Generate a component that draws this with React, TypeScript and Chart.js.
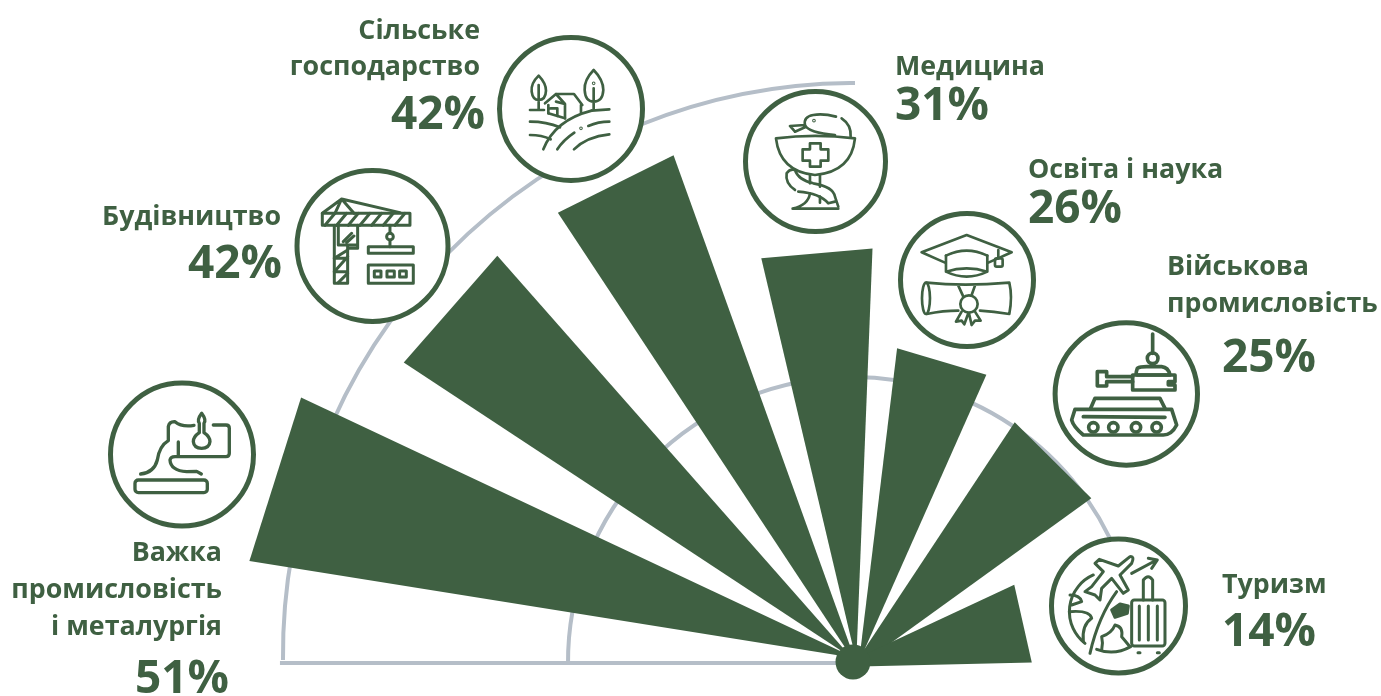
import React, { useEffect, useRef } from "react";
import { Chart, registerables, ArcElement } from "chart.js";

const categories = ["Важка промисловість і металургія", "Будівництво", "Сільське господарство", "Медицина", "Освіта і наука", "Військова промисловість", "Туризм"];
const percentLabels = ["51%", "42%", "42%", "31%", "26%", "25%", "14%"];
// radial length of each wedge
const wedgeLengths = [51.0, 45.0, 44.8, 34.5, 26.4, 24.1, 14.9];
// angular extent, degrees measured clockwise from the left end of the baseline
const wedgeFrom = [9.5, 33.7, 56.7, 77.2, 98.0, 124.0, 154.4];
const wedgeTo = [25.6, 48.8, 70.5, 92.7, 114.9, 145.5, 180.2];
const guideValues = [23.75, 47.67];
const guideFrom = [-0.5, -0.5];
const guideTo = [163, 90];

const GREEN = "#3F6042";
const GREY = "#B5BEC8";
// where each wedge's tip sits under the hub, relative to the hub centre (drawing style only)
const tipShift = [[2, -4], [-1.6, -4.5], [4.3, 4], [3.3, -1], [6, 0], [-5, 12], [-15, 5]];

const labels: string[] = [];
const data: number[] = [];
const spans: number[] = [];
categories.forEach((c, i) => {
  labels.push(c);
  data.push(wedgeLengths[i]);
  spans.push(wedgeTo[i] - wedgeFrom[i]);
  if (i < categories.length - 1) {
    labels.push("");
    data.push(0);
    spans.push(wedgeFrom[i + 1] - wedgeTo[i]);
  }
});

class ChordArc extends ArcElement {
  static id = "chordArc";
  draw(ctx: CanvasRenderingContext2D) {
    const { x, y, startAngle, endAngle, outerRadius } = (this as any).getProps(["x", "y", "startAngle", "endAngle", "outerRadius"]);
    if (!outerRadius) return;
    const mid = (startAngle + endAngle) / 2;
    const fromLeft = (mid * 180) / Math.PI - 180;
    const idx = wedgeFrom.findIndex((f, i) => fromLeft >= f && fromLeft <= wedgeTo[i]);
    const [sx, sy] = tipShift[idx] || [0, 0];
    ctx.save();
    ctx.fillStyle = (this as any).options.backgroundColor;
    ctx.beginPath();
    ctx.moveTo(x + sx, y + sy);
    ctx.lineTo(x + Math.cos(startAngle) * outerRadius, y + Math.sin(startAngle) * outerRadius);
    ctx.lineTo(x + Math.cos(endAngle) * outerRadius, y + Math.sin(endAngle) * outerRadius);
    ctx.closePath();
    ctx.fill();
    ctx.restore();
  }
}

Chart.register(...registerables, ChordArc);
(Chart.defaults as any).datasets.polarArea.dataElementType = "chordArc";

const guidePlugin = {
  id: "guides",
  beforeDatasetsDraw(chart: any) {
    const s = chart.scales.r;
    const ctx = chart.ctx;
    ctx.save();
    ctx.strokeStyle = GREY;
    ctx.lineWidth = 4;
    guideValues.forEach((v, i) => {
      const r = s.getDistanceFromCenterForValue(v);
      const big = i === 1;
      const cx = s.xCenter + (big ? 2 : 0);
      const cy = s.yCenter + (big ? -7 : 0);
      ctx.beginPath();
      ctx.arc(cx, cy, r, Math.PI + (guideFrom[i] * Math.PI) / 180, Math.PI + (guideTo[i] * Math.PI) / 180);
      ctx.stroke();
    });
    const r = s.getDistanceFromCenterForValue(guideValues[1]);
    ctx.beginPath();
    ctx.moveTo(s.xCenter - r - 1, s.yCenter + 1);
    ctx.lineTo(s.xCenter, s.yCenter + 1);
    ctx.stroke();
    ctx.restore();
  },
  afterDatasetsDraw(chart: any) {
    const s = chart.scales.r;
    const ctx = chart.ctx;
    ctx.save();
    ctx.fillStyle = GREEN;
    ctx.beginPath();
    ctx.arc(s.xCenter, s.yCenter, 17.5, 0, Math.PI * 2);
    ctx.fill();
    ctx.restore();
  },
};

const FONT = '"Open Sans", sans-serif';
const CAP = 26.8;
const PCT = 46;

type T = { t: string; x: number; y: number; a: "start" | "end"; s: number };
const texts: T[] = [
  { t: "Сільське", x: 480, y: 39, a: "end", s: CAP },
  { t: "господарство", x: 480, y: 75, a: "end", s: CAP },
  { t: percentLabels[2], x: 485, y: 129, a: "end", s: PCT },
  { t: "Будівництво", x: 281, y: 225, a: "end", s: CAP },
  { t: percentLabels[1], x: 282, y: 278, a: "end", s: PCT },
  { t: "Важка", x: 222, y: 561, a: "end", s: CAP },
  { t: "промисловість", x: 222, y: 598, a: "end", s: CAP },
  { t: "і металургія", x: 222, y: 635, a: "end", s: CAP },
  { t: percentLabels[0], x: 229, y: 693, a: "end", s: PCT },
  { t: "Медицина", x: 895, y: 75, a: "start", s: CAP },
  { t: percentLabels[3], x: 895, y: 120, a: "start", s: PCT },
  { t: "Освіта і наука", x: 1028, y: 178, a: "start", s: CAP },
  { t: percentLabels[4], x: 1028, y: 223, a: "start", s: PCT },
  { t: "Військова", x: 1167, y: 275, a: "start", s: CAP },
  { t: "промисловість", x: 1167, y: 312, a: "start", s: CAP },
  { t: percentLabels[5], x: 1222, y: 372, a: "start", s: PCT },
  { t: "Туризм", x: 1222, y: 593, a: "start", s: CAP },
  { t: percentLabels[6], x: 1222, y: 646, a: "start", s: PCT },
];

const circles = [
  [182, 454.5, 71.5],
  [372.5, 246, 75.5],
  [571, 109, 71.5],
  [815.5, 161.5, 70],
  [967, 280, 66.5],
  [1126.3, 394, 71.2],
  [1118.5, 606, 67],
];

function Zoomed({ x, y, children, w = 8 }: { x: number; y: number; w?: number; children: React.ReactNode }) {
  return (
    <g transform={`translate(${x} ${y}) scale(0.3333)`} fill="none" stroke={GREEN} strokeWidth={w} strokeLinecap="round" strokeLinejoin="round">
      {children}
    </g>
  );
}

function Icons() {
  return (
    <>
      {/* furnace */}
      <Zoomed x={0} y={370} w={10}>
        <rect x={405} y={330} width={217} height={38} rx={10} />
        <path d="M422 312 Q 462 308 472 270 Q 478 228 505 212 L505 170 Q 508 154 525 155 Q 545 172 582 166" />
        <path d="M640 165 L678 165 Q 688 165 688 175 L688 250 Q 688 260 678 260 L530 260 Q 512 258 510 270 Q 512 302 560 305 L590 304 L604 312" />
        <path d="M535 216 L535 258" />
        <path d="M605 130 Q 590 150 598 160 L598 188 Q 580 200 580 215 Q 582 235 605 235 Q 628 235 630 215 Q 630 200 612 188 L612 160 Q 620 150 605 130Z" />
      </Zoomed>
      {/* crane */}
      <Zoomed x={90} y={0} w={9}>
        <path d="M697 640 L755 597 L792 640 M755 597 L735 640 M755 597 L930 638" />
        <rect x={697} y={640} width={263} height={36} />
        <path d="M705 676 L735 640 M740 676 L770 640 M775 676 L805 640 M810 676 L840 640 M845 676 L875 640 M880 676 L910 640 M915 676 L945 640" />
        <path d="M733 676 L733 850 L773 850 L773 745 L803 745 L803 676 M745 676 L745 735 L803 735 M773 735 L773 745" />
        <path d="M733 775 L773 750 M733 815 L773 770 M733 815 L773 815 M733 775 L773 775 M745 848 L773 820 M760 725 L785 700 M770 728 L792 708" />
        <path d="M900 676 L900 700 M900 720 L900 740" />
        <circle cx={900} cy={710} r={10} />
        <rect x={835} y={740} width={135} height={20} />
        <rect x={835} y={795} width={135} height={55} />
        <rect x={853} y={813} width={20} height={18} />
        <rect x={891} y={813} width={22} height={18} />
        <rect x={929} y={813} width={20} height={18} />
      </Zoomed>
      {/* farm */}
      <Zoomed x={480} y={20} w={8}>
        <path d="M176 167 Q 152 190 155 215 Q 158 240 176 240 Q 197 240 198 212 Q 198 190 176 167Z M176 195 L176 268" />
        <path d="M341 150 Q 312 180 314 210 Q 316 245 341 245 Q 368 245 370 210 Q 370 180 341 150Z M341 205 L341 268" />
        <circle cx={341} cy={190} r={1.5} />
        <path d="M195 250 L228 222 L282 222 L307 255 M228 222 L255 252 M205 255 L205 280 M228 245 L255 252 L255 295 M303 255 L303 278 M212 265 L232 265 L232 288" />
        <path d="M150 270 L192 270 M205 280 L255 295 M335 272 L388 268" />
        <path d="M190 388 Q 225 300 335 272" />
        <path d="M150 305 Q 200 305 240 322 M150 345 Q 185 345 212 358" />
        <path d="M232 388 Q 250 360 283 338 M325 318 Q 355 305 388 305 M282 388 Q 320 350 388 343" />
        <circle cx={303} cy={325} r={1.5} />
      </Zoomed>
      {/* pharmacy */}
      <Zoomed x={480} y={20} w={8}>
        <path d="M888 355 Q 1005 340 1125 355 Q 1115 455 1005 465 Q 900 455 888 355Z" />
        <path d="M990 370 L1022 370 L1022 388 L1045 388 L1045 422 L1022 422 L1022 440 L990 440 L990 422 L968 422 L968 388 L990 388Z" />
        <path d="M990 465 L990 490 M1020 465 L1020 500 M938 566 L1075 566 M938 566 Q 985 555 990 520 M1020 530 L1020 548" />
        <path d="M1068 290 Q 1030 280 1000 285 Q 970 290 975 315 Q 985 338 1065 345 M975 315 L930 318 L945 335 M975 322 L945 335 M1085 295 Q 1115 315 1112 350" />
        <path d="M945 510 Q 915 490 920 460 Q 930 445 945 450 Q 955 480 1000 490 Q 1060 500 1065 530 L1075 560 M955 515 Q 1020 520 1045 550 L1065 545" />
        <circle cx={1002} cy={302} r={1.5} />
      </Zoomed>
      {/* education */}
      <Zoomed x={730} y={80} w={8}>
        <path d="M645 548 L575 517 L710 465 L845 517 L775 548" />
        <path d="M648 527 Q 710 497 772 527" />
        <path d="M648 527 L648 575 Q 710 605 772 575 L772 527 M648 575 Q 710 555 772 575" />
        <path d="M805 510 L805 535" />
        <rect x={795} y={535} width={23} height={25} rx={5} />
        <ellipse cx={588} cy={655} rx={12} ry={47} />
        <path d="M590 608 Q 700 620 838 608 Q 848 650 838 702 Q 790 695 750 692 M590 702 Q 640 692 685 692 M685 617 L700 650 M735 617 L725 645" />
        <circle cx={717} cy={672} r={26} />
        <path d="M695 695 L678 725 L695 722 L703 733 L715 700 M735 695 L752 722 L735 722 L725 735 L717 700" />
      </Zoomed>
      {/* tank */}
      <Zoomed x={1040} y={310} w={11}>
        <path d="M338 72 L338 130" />
        <circle cx={338} cy={145} r={16} />
        <path d="M292 175 Q 300 170 320 170 L365 170 Q 385 172 390 195 L292 195 Q 285 195 292 175Z" />
        <path d="M278 195 L405 195 L405 215 L385 215 L385 225 L405 225 L405 240 L278 240Z" />
        <path d="M278 200 L200 200 L200 185 L172 185 L172 228 L200 228 L200 215 L278 215" />
        <path d="M152 295 L165 265 L360 265 L375 295" />
        <path d="M105 298 L395 298 L410 345 Q 395 375 370 375 L130 375 Q 100 350 95 330 Z" />
        <path d="M130 320 L375 322" />
        <circle cx={160} cy={352} r={14} />
        <circle cx={220} cy={352} r={14} />
        <circle cx={288} cy={352} r={14} />
        <circle cx={350} cy={352} r={14} />
      </Zoomed>
      {/* travel */}
      <Zoomed x={1040} y={530} w={9}>
        <path d="M160 135 A 120 120 0 0 0 135 340 M170 358 A 120 120 0 0 0 272 350" />
        <path d="M90 195 Q 120 195 125 215 L95 225 M88 245 Q 150 240 155 265 Q 125 285 130 335" />
        <path d="M150 370 Q 175 260 230 185" />
        <path d="M185 360 Q 190 340 185 320 Q 215 310 225 285 Q 250 290 245 320 Q 262 340 268 348" />
        <path d="M215 240 L240 222 L265 228 L262 250 L225 262Z" fill={GREEN} />
        <path d="M165 100 L178 88 L235 108 L270 80 Q 285 78 275 100 L240 135 L265 180 L250 190 L215 145 L185 175 L180 210 L165 195 L135 185 L155 170 L190 125 Z" fill="#fff" />
        <path d="M275 130 L350 90 M325 85 L352 90 L335 115" />
        <rect x={275} y={210} width={100} height={138} rx={8} fill="#fff" />
        <path d="M298 228 L298 330 M325 228 L325 330 M352 228 L352 330" />
        <path d="M310 210 L310 150 Q 325 130 338 150 L338 210" />
        <path d="M294 368 L300 368 M352 368 L358 368" />
      </Zoomed>
    </>
  );
}

export default function App() {
  const ref = useRef<HTMLCanvasElement>(null);
  useEffect(() => {
    const chart = new Chart(ref.current!, {
      type: "polarArea",
      data: {
        labels,
        datasets: [{ data, backgroundColor: GREEN, borderWidth: 0, angle: (c: any) => spans[c.dataIndex] } as any],
      },
      options: {
        responsive: false,
        animation: false,
        plugins: { legend: { display: false }, tooltip: { enabled: false } },
        scales: {
          r: {
            min: 0,
            max: 70,
            startAngle: -90 + wedgeFrom[0],
            grid: { display: false },
            angleLines: { display: false },
            ticks: { display: false },
            pointLabels: { display: false },
            afterFit(s: any) {
              s.xCenter = 853;
              s.yCenter = 662;
              s.drawingArea = 840;
            },
          } as any,
        },
      },
      plugins: [guidePlugin],
    } as any);
    return () => chart.destroy();
  }, []);
  return (
    <div style={{ position: "absolute", left: 0, top: 0, width: 1381, height: 696, overflow: "hidden", background: "#fff" }}>
      <canvas ref={ref} width={1381} height={696} style={{ position: "absolute", left: 0, top: 0 }} />
      <svg width={1381} height={696} style={{ position: "absolute", left: 0, top: 0 }}>
        {circles.map(([cx, cy, r], i) => (
          <circle key={i} cx={cx} cy={cy} r={r} fill="#fff" stroke={GREEN} strokeWidth={5} />
        ))}
        <Icons />
        {texts.map((t, i) => (
          <text key={i} x={t.x} y={t.y} textAnchor={t.a} fontFamily={FONT} fontWeight={700} fontSize={t.s} fill={GREEN}>
            {t.t}
          </text>
        ))}
      </svg>
    </div>
  );
}
